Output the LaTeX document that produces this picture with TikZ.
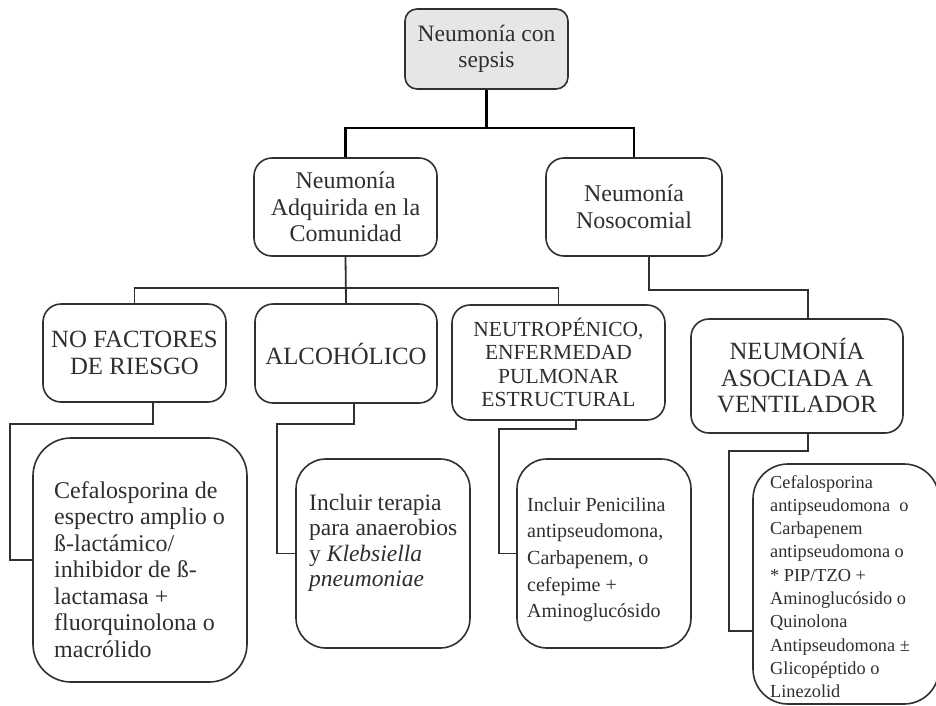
\documentclass[tikz,border=0pt]{standalone}
\usepackage{fontspec}
\setmainfont{Liberation Serif}
\usetikzlibrary{calc}
\definecolor{ink}{HTML}{2E2E2E}
\definecolor{edge}{HTML}{303030}
\definecolor{headfill}{HTML}{E6E6E6}

\begin{document}
\begin{tikzpicture}[x=1pt,y=-1pt,
  box/.style={draw=edge, line width=1.6pt, rounded corners=#1, inner sep=0pt,
              text=ink, align=center},
  box/.default=18pt,
  lg/.style={font=\fontsize{24}{26.5}\selectfont},
  caps/.style={font=\fontsize{24.8}{26.5}\selectfont},
  md/.style={font=\fontsize{21.5}{23.4}\selectfont},
  txt/.style={anchor=north west, inner sep=0pt, align=left, text=ink},
  trunk/.style={draw=black, line width=2.6pt},
  conn/.style={draw=edge, line width=1.8pt},
]
\clip (0,0) rectangle (936,705);

% level 1
\node[box=12pt, fill=headfill, font=\fontsize{23.5}{26.5}\selectfont,
      minimum width=163pt, minimum height=80pt]
  (top) at (486.5,49) {Neumonía con\\sepsis};

% level 2
\node[box, lg, minimum width=183pt, minimum height=98pt]
  (cac) at (345.5,207) {Neumonía\\Adquirida en la\\Comunidad};
\node[box, lg, minimum width=176pt, minimum height=98pt]
  (noso) at (634,207) {Neumonía\\Nosocomial};

% level 3
\node[box, caps, minimum width=183pt, minimum height=98pt]
  (nof) at (134.5,353) {NO FACTORES\\DE RIESGO};
\node[box, caps, minimum width=182pt, minimum height=99pt]
  (alc) at (346,353.5) {ALCOHÓLICO};
\node[box, md, minimum width=213pt, minimum height=115pt]
  (neu) at (558.5,362.5) {NEUTROPÉNICO,\\ENFERMEDAD\\PULMONAR\\ESTRUCTURAL};
\node[box, caps, minimum width=212pt, minimum height=114pt]
  (vap) at (797,376) {NEUMONÍA\\ASOCIADA A\\VENTILADOR};

% level 4: treatment boxes
\node[box=38pt, minimum width=214pt, minimum height=244pt] (r4a) at (140,560) {};
\node[box=30pt, minimum width=174pt, minimum height=189pt] (r4b) at (383,553.5) {};
\node[box=30pt, minimum width=174pt, minimum height=189pt] (r4c) at (604,553.5) {};
\node[box=35pt, minimum width=186pt, minimum height=240pt] (r4d) at (846,584) {};

\node[txt, font=\fontsize{24}{26.5}\selectfont] (t4a) at (54,481)
  {Cefalosporina de\\espectro amplio o\\ß-lactámico/\\inhibidor de ß-\\lactamasa +\\fluorquinolona o\\macrólido};
\node[txt, font=\fontsize{23.5}{25.4}\selectfont] (t4b) at (309,494)
  {Incluir terapia\\para anaerobios\\y \textit{Klebsiella}\\\textit{pneumoniae}};
\node[txt, font=\fontsize{20}{26.7}\selectfont] (t4c) at (527,497)
  {Incluir Penicilina\\antipseudomona,\\Carbapenem, o\\cefepime +\\Aminoglucósido};
\node[txt, font=\fontsize{18.3}{23.3}\selectfont] (t4d) at (770,475)
  {Cefalosporina\\antipseudomona\ \ o\\Carbapenem\\antipseudomona o\\* PIP/TZO +\\Aminoglucósido o\\Quinolona\\Antipseudomona ±\\Glicopéptido o\\Linezolid};

% bend points
\coordinate (j0) at (486.5,128);
\coordinate (j1) at (346,288);
\coordinate (j2) at (649,290);
\coordinate (ka) at (10,424);
\coordinate (kb) at (277,424);
\coordinate (kc) at (499,429);
\coordinate (kd) at (729,451);

% connectors
\draw[trunk] (top.south) -- (j0);
\draw[trunk] (cac.north) |- (j0) -| (noso.north);

\draw[conn] (cac.south) -- (alc.north);
\draw[conn] (nof.north) |- (j1) -| (neu.north);
\draw[conn] ($(noso.south)+(15,0)$) -- (j2) -| ($(vap.north)+(11,0)$);

\draw[conn] ($(nof.south)+(18.5,0)$) |- (ka) |- (r4a.west);
\draw[conn] ($(alc.south)+(8,0)$) |- (kb) |- (r4b.west);
\draw[conn] ($(neu.south)+(17.5,0)$) |- (kc) |- (r4c.west);
\draw[conn] ($(vap.south)+(11,0)$) |- (kd) |- ($(r4d.west)+(0,47)$);
\end{tikzpicture}
\end{document}
